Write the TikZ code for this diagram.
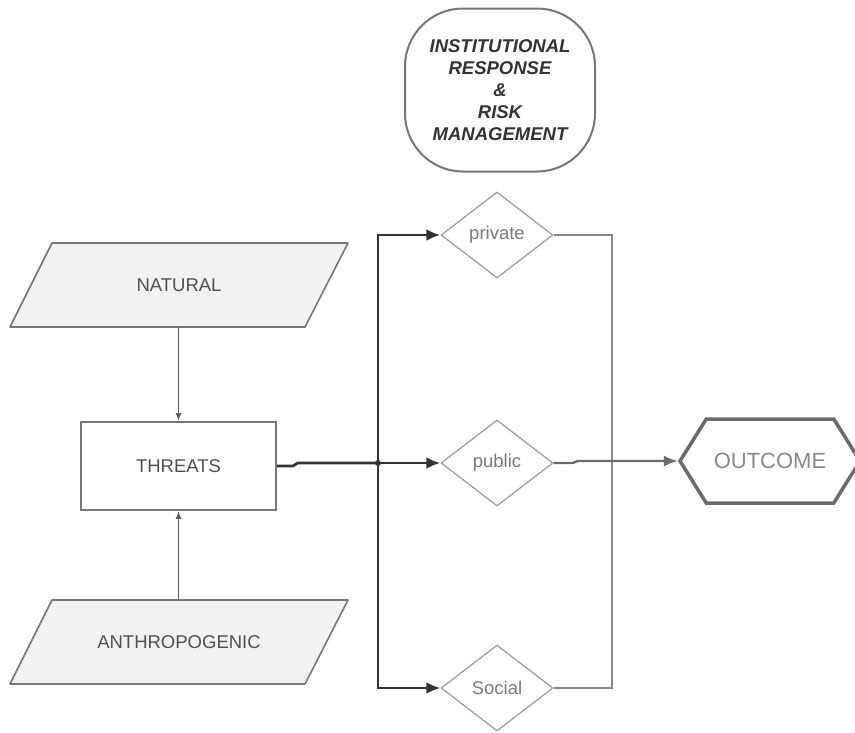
\documentclass[tikz,border=0pt]{standalone}
\usepackage{fontspec}
\setmainfont{Liberation Sans}
\usetikzlibrary{shapes.geometric,shapes.symbols,arrows.meta}
\definecolor{txtgray}{HTML}{505050}
\definecolor{ltgray}{HTML}{7A7A7A}
\definecolor{bordergray}{HTML}{777777}
\definecolor{paraFill}{HTML}{F2F2F2}
\definecolor{darkline}{HTML}{333333}
\definecolor{midline}{HTML}{888888}
\tikzset{
  parashape/.style={draw=bordergray, line width=1.6pt, fill=paraFill, line join=round},
  paratext/.style={minimum width=296, minimum height=84, inner sep=0pt, text=txtgray,
    font=\fontsize{18.5}{22}\selectfont},
  boxnode/.style={draw=bordergray, line width=1.6pt, minimum width=195, minimum height=88,
    text=txtgray, font=\fontsize{18.5}{22}\selectfont},
  dia/.style={draw=midline!80, line width=1.3pt, diamond, aspect=1.3, inner sep=0pt,
    minimum width=112, minimum height=86, text=ltgray, font=\fontsize{18.5}{22}\selectfont},
  hexnode/.style={draw=bordergray!90!black, line width=3.5pt, signal, signal to=west and east,
    signal pointer angle=116, minimum width=180, minimum height=84, inner sep=0pt,
    text=midline, font=\fontsize{22}{26}\selectfont},
  inst/.style={draw=bordergray, line width=2pt, rounded corners=58pt, minimum width=190,
    minimum height=163, align=center, text=darkline,
    font=\bfseries\itshape\fontsize{18.5}{22}\selectfont},
  thinarrow/.style={draw=bordergray!80!black, line width=1.6pt, -{Latex[length=8pt,width=6pt]}},
  trunk/.style={draw=darkline, line width=2.8pt},
  trunkarrow/.style={trunk, -{Latex[length=14pt,width=12pt]}},
  outline/.style={draw=midline, line width=2.4pt},
  outarrow/.style={draw=bordergray!90!black, line width=2.4pt, -{Latex[length=14pt,width=11pt]}}
}
\begin{document}
\begin{tikzpicture}[x=1pt,y=-1pt]
\useasboundingbox (0,0) rectangle (855,732);
\node[inst] (inst) at (500,90) {INSTITUTIONAL\\RESPONSE\\\&\\RISK\\MANAGEMENT};

% parallelograms drawn directly
\draw[parashape] (52,243) -- (348,243) -- (305,327) -- (10,327) -- cycle;
\node[paratext] (nat) at (179,285) {NATURAL};
\draw[parashape] (52,600) -- (348,600) -- (305,684) -- (10,684) -- cycle;
\node[paratext] (anth) at (179,642) {ANTHROPOGENIC};

\node[boxnode] (thr) at (178.5,466) {THREATS};
\node[dia] (priv) at (497,235) {private};
\node[dia] (pub) at (497,463) {public};
\node[dia] (soc) at (497,688) {Social};
\node[hexnode] (out) at (770,461) {OUTCOME};

\coordinate (jn) at (378,463);
\coordinate (rbus) at (612,463);

\draw[thinarrow] (nat.south -| thr.north) -- (thr.north);
\draw[thinarrow] (anth.north -| thr.south) -- (thr.south);

\draw[trunk] (thr.east) -- ++(16,0) -- ++(5,-3) -- (jn);
\draw[trunkarrow] (jn) -- (pub.west);
\draw[trunkarrow] (jn) |- (priv.west);
\draw[trunkarrow] (jn) |- (soc.west);
\fill[darkline] (jn) circle (3pt);

\draw[outline] (priv.east) -| (rbus) |- (soc.east);
\draw[outarrow] (pub.east) -- ++(19,0) -- ++(5,-2) -- (out.west);
\end{tikzpicture}
\end{document}
